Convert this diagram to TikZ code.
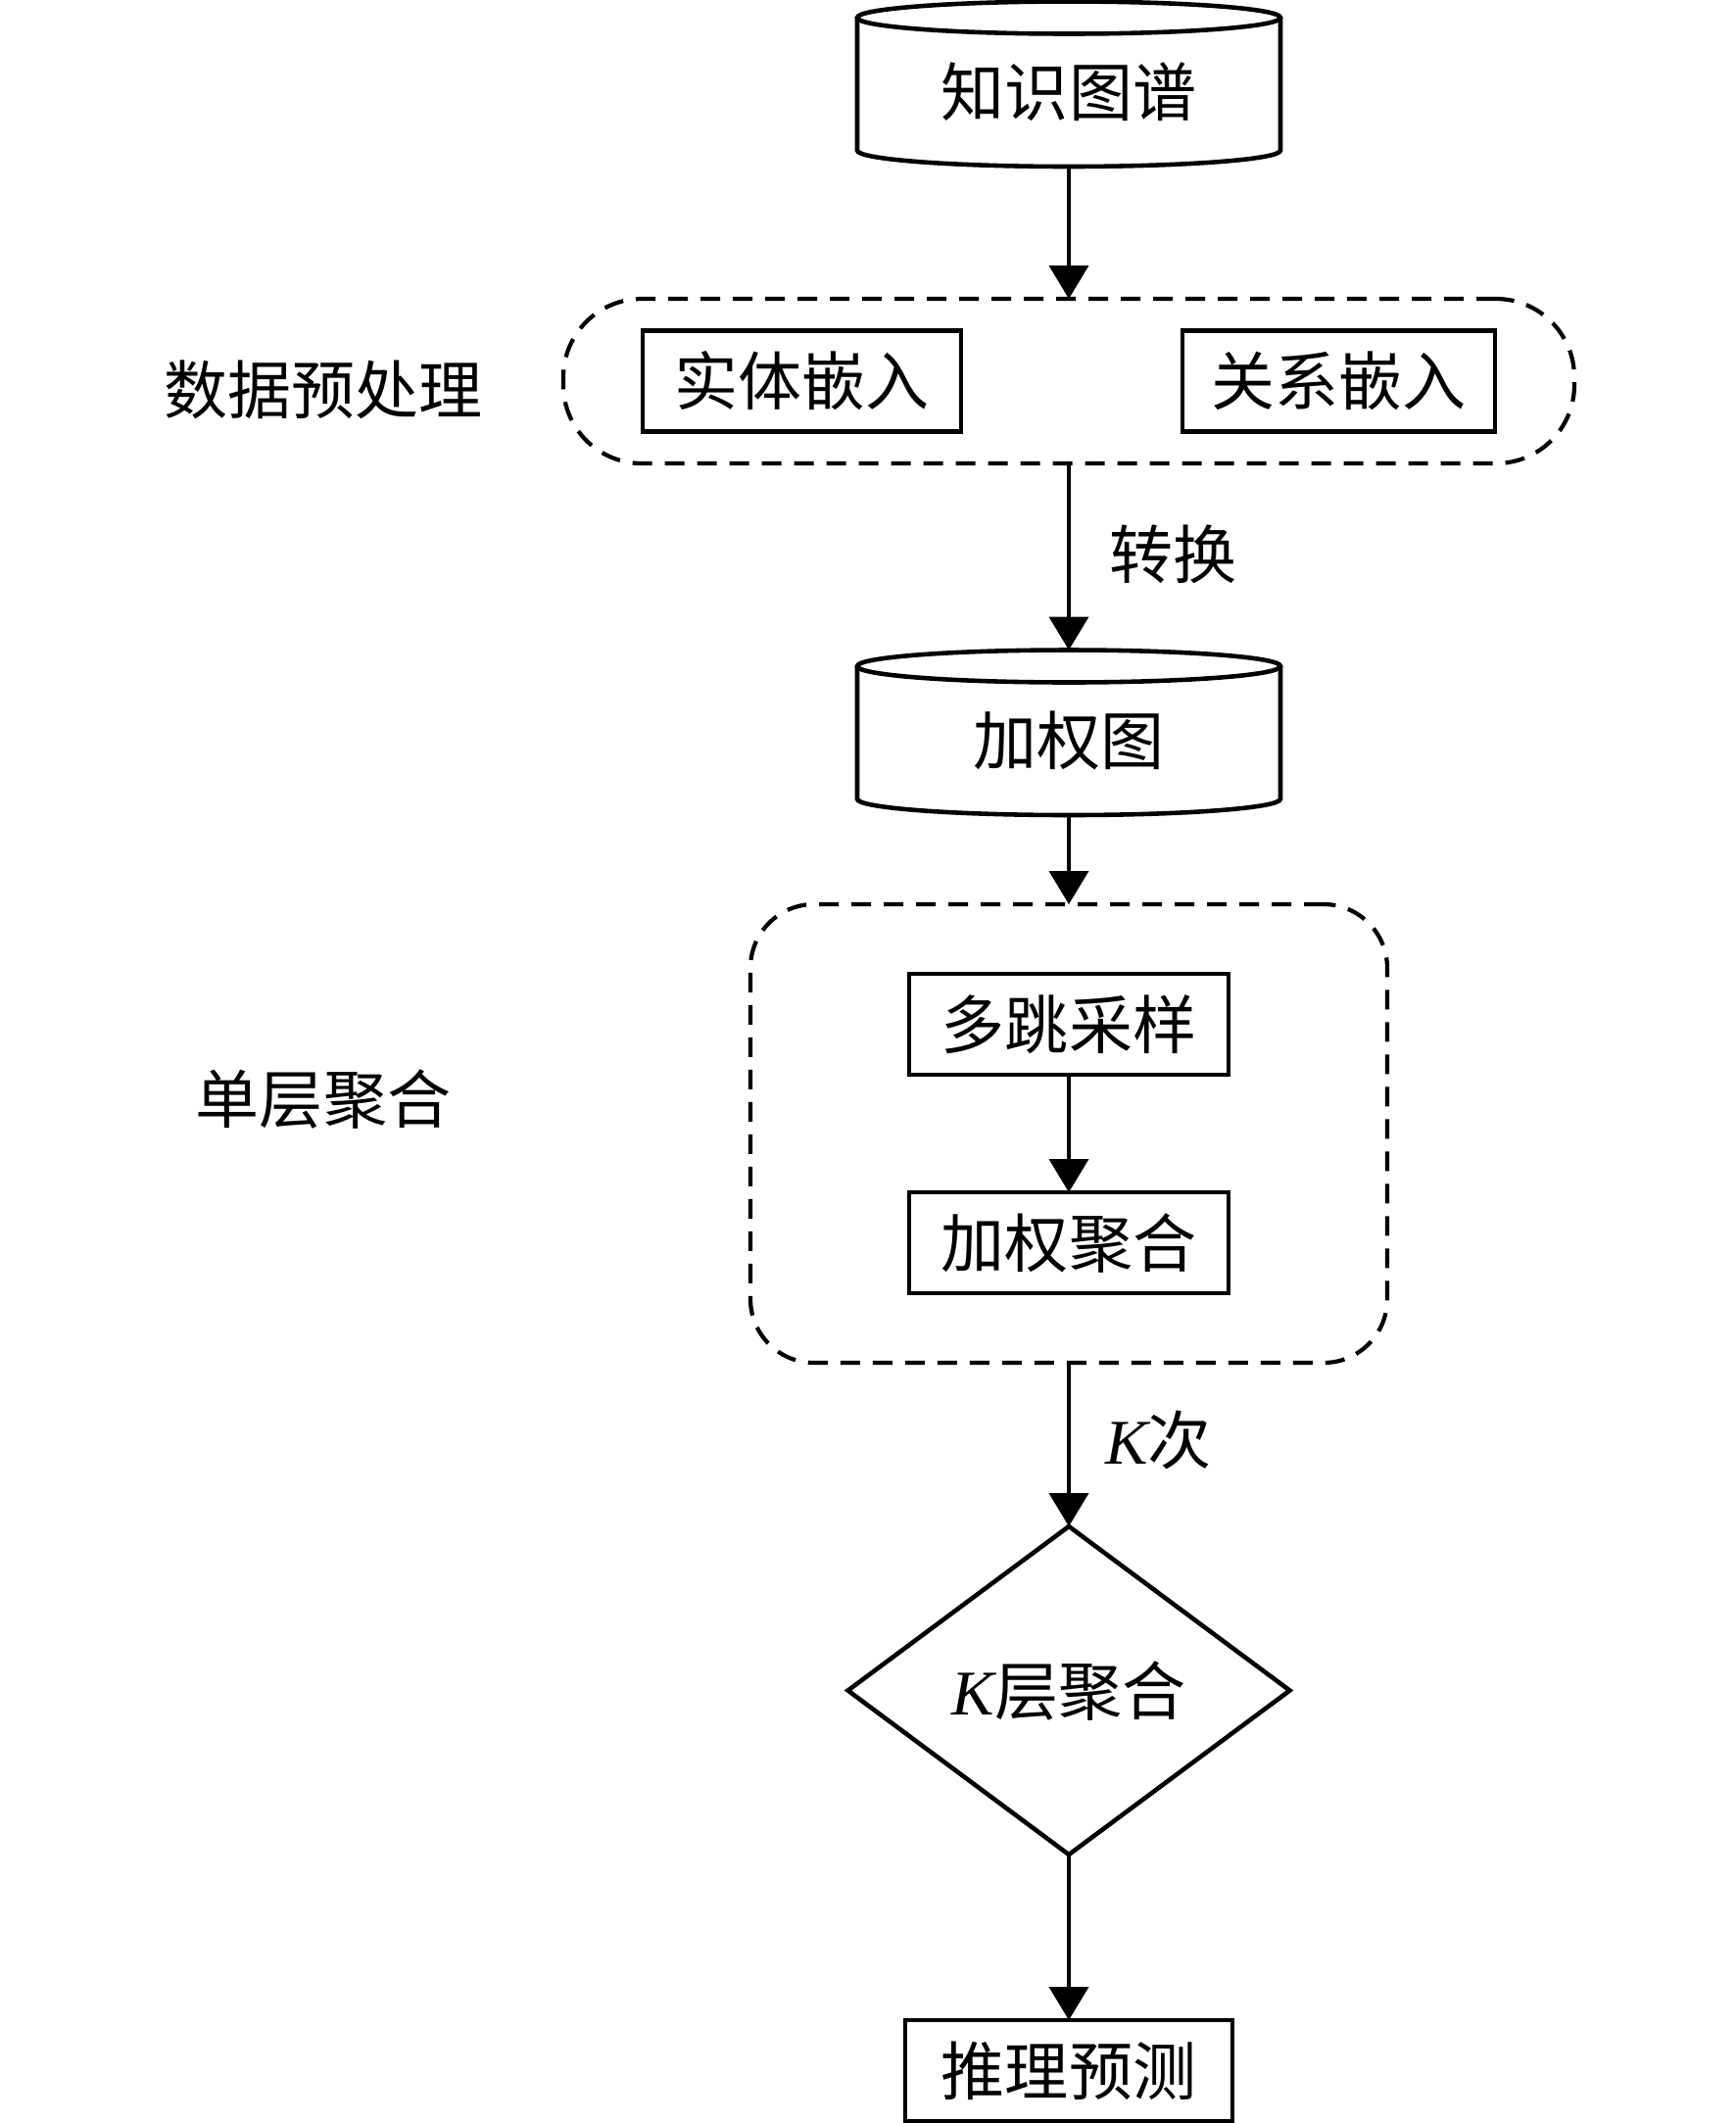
\documentclass[tikz,border=0pt]{standalone}
\usepackage{fontspec}
\setmainfont{Liberation Serif}
\newfontfamily\cjk{Noto Sans CJK SC}
\usepackage{tikz}
\usetikzlibrary{shapes,positioning,arrows,fit,calc}
\usetikzlibrary{arrows.meta}

\newcommand{\dbcyl}[1]{%
  \draw[boxline] (#1.north west) -- ($(#1.south west)+(0,1.65mm)$)
    arc[start angle=180, end angle=360, x radius=21.6mm, y radius=1.65mm]
    -- (#1.north east);
  \draw[boxline] (#1.north) ellipse[x radius=21.6mm, y radius=1.65mm];
}

\begin{document}
\begin{tikzpicture}[
    >={Triangle[length=3.4mm, width=4mm]},
    node distance=1cm,
    every node/.style={font=\cjk\fontsize{18.5}{22}\selectfont, outer sep=0pt},
    boxline/.style={line width=1.3pt},
    procbox/.style={
        rectangle, draw, line width=1.3pt, minimum height=10.3mm, inner sep=0pt
      },
    dbnode/.style={
        minimum width=43.2mm, minimum height=15.2mm, inner sep=0pt
      },
    groupbox/.style={
        draw, line width=1.2pt, dash pattern=on 2mm off 1.3mm, inner sep=0pt
      },
    flow/.style={->, line width=1.1pt},
    sidelabel/.style={inner sep=0pt},
  ]
  \useasboundingbox (0,0) rectangle (17.72,-21.67);
  \node[dbnode](kg) at (10.91,-0.94) {知识图谱};
  \node[procbox, minimum width=32.5mm](ent) at (8.185,-3.89) {实体嵌入};
  \node[procbox, minimum width=31.9mm](rel) [right=22.6mm of ent] {关系嵌入};
  \node[groupbox, rounded corners=8mm, inner xsep=8.1mm, inner ysep=3.25mm,
        fit=(ent)(rel)](pre) {};
  \node[dbnode](wg) [below=20.7mm of pre] {加权图};
  \node[procbox, minimum width=32.6mm](hop) [below=16.2mm of wg] {多跳采样};
  \node[procbox, minimum width=32.6mm](agg) [below=12mm of hop] {加权聚合};
  \node[groupbox, rounded corners=6.5mm, inner xsep=16.2mm, inner ysep=7.1mm,
        fit=(hop)(agg)](sl) {};
  \node[diamond, draw, line width=1.3pt, minimum width=45.1mm, minimum height=33.5mm,
        inner sep=0pt, aspect=1.35](kl) [below=16.7mm of sl] {{\rmfamily\itshape K}层聚合};
  \node[procbox, minimum width=33.4mm](pred) [below=16.9mm of kl] {推理预测};
  \node[sidelabel] at (3.30,-3.98) {数据预处理};
  \node[sidelabel] at (3.30,-11.22) {单层聚合};

  \dbcyl{kg}
  \dbcyl{wg}

  \path[flow]
    (kg.south) edge (pre.north)
    (pre.south) edge[shorten >=1.65mm] node[pos=0.45, right=4.1mm, inner sep=0pt]{转换} (wg.north)
    (wg.south) edge (sl.north)
    (hop) edge (agg)
    (sl.south) edge node[pos=0.47, right=3.7mm, inner sep=0pt]{{\rmfamily\itshape K}次} (kl.north)
    (kl) edge (pred)
  ;
\end{tikzpicture}
\end{document}
